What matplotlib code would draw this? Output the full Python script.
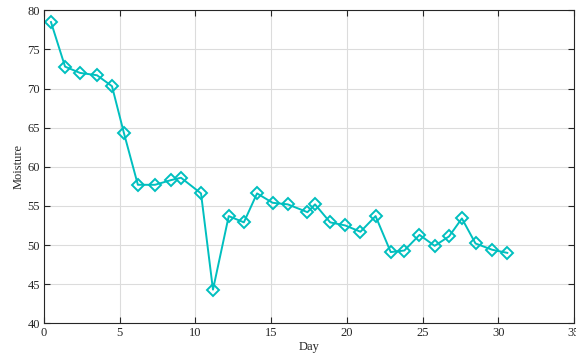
import matplotlib
matplotlib.use("Agg")
import matplotlib.pyplot as plt

plt.rcParams['font.family'] = ['Liberation Serif', 'DejaVu Serif']

# 일별 수분 측정값
day = [0.46, 1.39, 2.38, 3.5, 4.49, 5.28, 6.2, 7.33, 8.39, 9.05, 10.37,
       11.16, 12.2, 13.2, 14.07, 15.1, 16.1, 17.4, 17.9, 18.9, 19.9, 20.9,
       21.9, 22.9, 23.8, 24.8, 25.8, 26.75, 27.6, 28.5, 29.6, 30.6]
moisture = [78.5, 72.8, 72.0, 71.7, 70.3, 64.3, 57.7, 57.7, 58.3, 58.6, 56.6,
            44.3, 53.7, 52.9, 56.6, 55.4, 55.2, 54.2, 55.2, 52.9, 52.5, 51.7,
            53.7, 49.1, 49.3, 51.3, 49.9, 51.1, 53.4, 50.2, 49.4, 49.0]

xticks = [0, 5, 10, 15, 20, 25, 30, 35]
yticks = [40, 45, 50, 55, 60, 65, 70, 75, 80]

fig = plt.figure(figsize=(5.76, 3.63), dpi=100)
ax = fig.add_axes([0.0764, 0.1094, 0.92, 0.8622])

ax.plot(day, moisture, color='#00BFBF', lw=1.4, marker='D', ms=6.0,
        mfc='none', mec='#00BFBF', mew=1.4)

ax.set_xlim(0, 35)
ax.set_ylim(40, 80)
ax.set_xticks(xticks)
ax.set_yticks(yticks)
ax.grid(True, color='#DCDCDC', lw=0.8)
ax.set_axisbelow(True)

ax.tick_params(direction='in', length=4, width=0.8, colors='#262626',
               labelsize=9, top=True, right=True, pad=3)
for sp in ax.spines.values():
    sp.set_color('#262626')
    sp.set_linewidth(0.8)

ax.set_xlabel('Day', fontsize=9, color='#262626', labelpad=1)
ax.set_ylabel('Moisture', fontsize=9, color='#262626', labelpad=2)

fig.savefig('out.png', dpi=100)
